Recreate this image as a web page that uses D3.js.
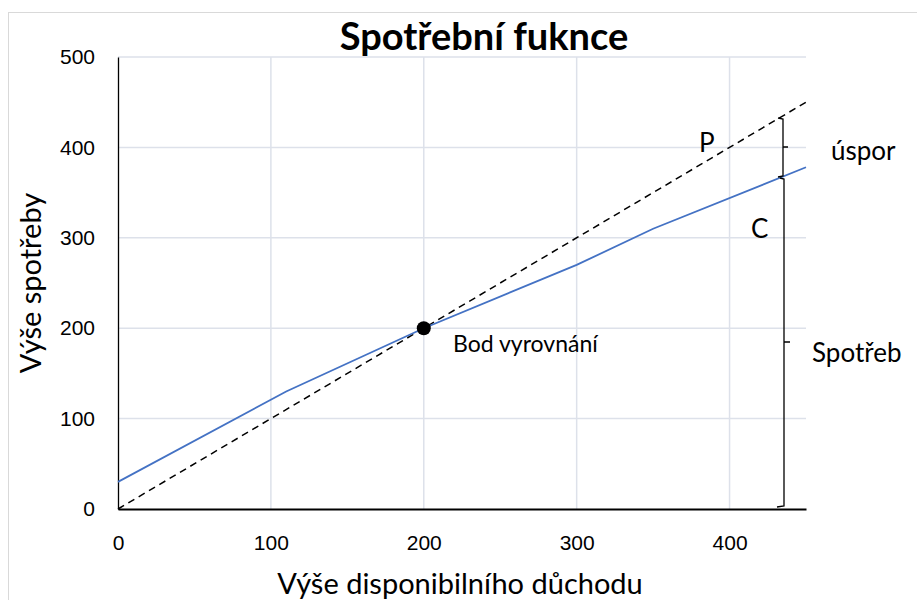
<!DOCTYPE html>
<html>
<head>
<meta charset="utf-8">
<script src="https://cdn.jsdelivr.net/npm/d3@7"></script>
<style>
  body { margin: 0; background: #fff; }
  svg { font-family: Lato, "Open Sans", sans-serif; }
</style>
</head>
<body>
<svg width="917" height="600"></svg>
<script>
// consumption function (C) and 45 degree line (P)
const incomeC = [0, 110, 200, 300, 350, 450];
const spendC = [30, 130, 200, 270, 310, 378];
const incomeP = [0, 450];
const spendP = [0, 450];
const xTicks = [0, 100, 200, 300, 400];
const yTicks = [0, 100, 200, 300, 400, 500];
const breakEven = [200, 200];

const svg = d3.select('svg');

// outer chart frame
svg.append('rect')
    .attr('x', 8.5).attr('y', 12.5)
    .attr('width', 920).attr('height', 600)
    .attr('fill', 'none')
    .attr('stroke', '#d9d9d9');

const x = d3.scaleLinear().domain([0, 450]).range([118, 806]);
const y = d3.scaleLinear().domain([0, 500]).range([509, 57]);

// gridlines
svg.append('g').selectAll('line')
    .data(yTicks.slice(1))
    .enter().append('line')
    .attr('x1', x(0)).attr('x2', x(450))
    .attr('y1', d => y(d)).attr('y2', d => y(d))
    .attr('stroke', '#dde1ea').attr('stroke-width', 1.5);
svg.append('g').selectAll('line')
    .data(xTicks.slice(1))
    .enter().append('line')
    .attr('x1', d => x(d)).attr('x2', d => x(d))
    .attr('y1', y(0)).attr('y2', y(500))
    .attr('stroke', '#dde1ea').attr('stroke-width', 1.5);

// axes
const xAxis = svg.append('g')
    .attr('transform', `translate(0,${y(0)})`)
    .call(d3.axisBottom(x).tickValues(xTicks).tickSize(0).tickPadding(26));
xAxis.select('.domain').attr('stroke', '#000').attr('stroke-width', 2);
xAxis.selectAll('text').attr('font-size', 21).attr('fill', '#000');

const yAxis = svg.append('g')
    .attr('transform', `translate(${x(0)},0)`)
    .call(d3.axisLeft(y).tickValues(yTicks).tickSize(0).tickPadding(23));
yAxis.select('.domain').attr('stroke', '#000').attr('stroke-width', 1.3);
yAxis.selectAll('text').attr('font-size', 21).attr('fill', '#000');

// lines
const line = d3.line().x(d => x(d[0])).y(d => y(d[1]));
svg.append('path')
    .datum(d3.zip(incomeP, spendP))
    .attr('d', line)
    .attr('fill', 'none')
    .attr('stroke', '#000')
    .attr('stroke-width', 1.5)
    .attr('stroke-dasharray', '7,5');
svg.append('path')
    .datum(d3.zip(incomeC, spendC))
    .attr('d', line)
    .attr('fill', 'none')
    .attr('stroke', '#4472c4')
    .attr('stroke-width', 1.8);

svg.append('circle')
    .attr('cx', x(breakEven[0])).attr('cy', y(breakEven[1]))
    .attr('r', 7).attr('fill', '#000');

// curly brackets on the right side
const bx = 783;
const brace = d3.path();
brace.moveTo(bx - 5, 118); brace.lineTo(bx, 119); brace.lineTo(bx, 176); brace.lineTo(bx - 5, 177);
brace.moveTo(bx, 147); brace.lineTo(bx + 5, 147);
svg.append('path').attr('d', brace.toString()).attr('fill', 'none').attr('stroke', '#000').attr('stroke-width', 1.3);
const brace2 = d3.path();
brace2.moveTo(bx - 3, 178); brace2.lineTo(bx + 1, 179); brace2.lineTo(bx + 1, 506); brace2.lineTo(bx - 6, 507);
brace2.moveTo(bx + 1, 342); brace2.lineTo(bx + 7, 342);
svg.append('path').attr('d', brace2.toString()).attr('fill', 'none').attr('stroke', '#000').attr('stroke-width', 1.3);

// labels
const label = (tx, ty, t, size, anchor) => svg.append('text')
    .attr('x', tx).attr('y', ty).attr('font-size', size)
    .attr('text-anchor', anchor || 'start').text(t);

label(484, 50, 'Spotřební fuknce', 38, 'middle').attr('font-weight', 'bold');
label(699, 152, 'P', 26);
label(831, 160, 'úspor', 26);
label(751, 238, 'C', 26);
label(812, 362, 'Spotřeb', 26);
label(453, 352, 'Bod vyrovnání', 23);
label(460, 594, 'Výše disponibilního důchodu', 29, 'middle');
label(0, 0, 'Výše spotřeby', 29, 'middle')
    .attr('transform', 'translate(41,283) rotate(-90)');
</script>
</body>
</html>
